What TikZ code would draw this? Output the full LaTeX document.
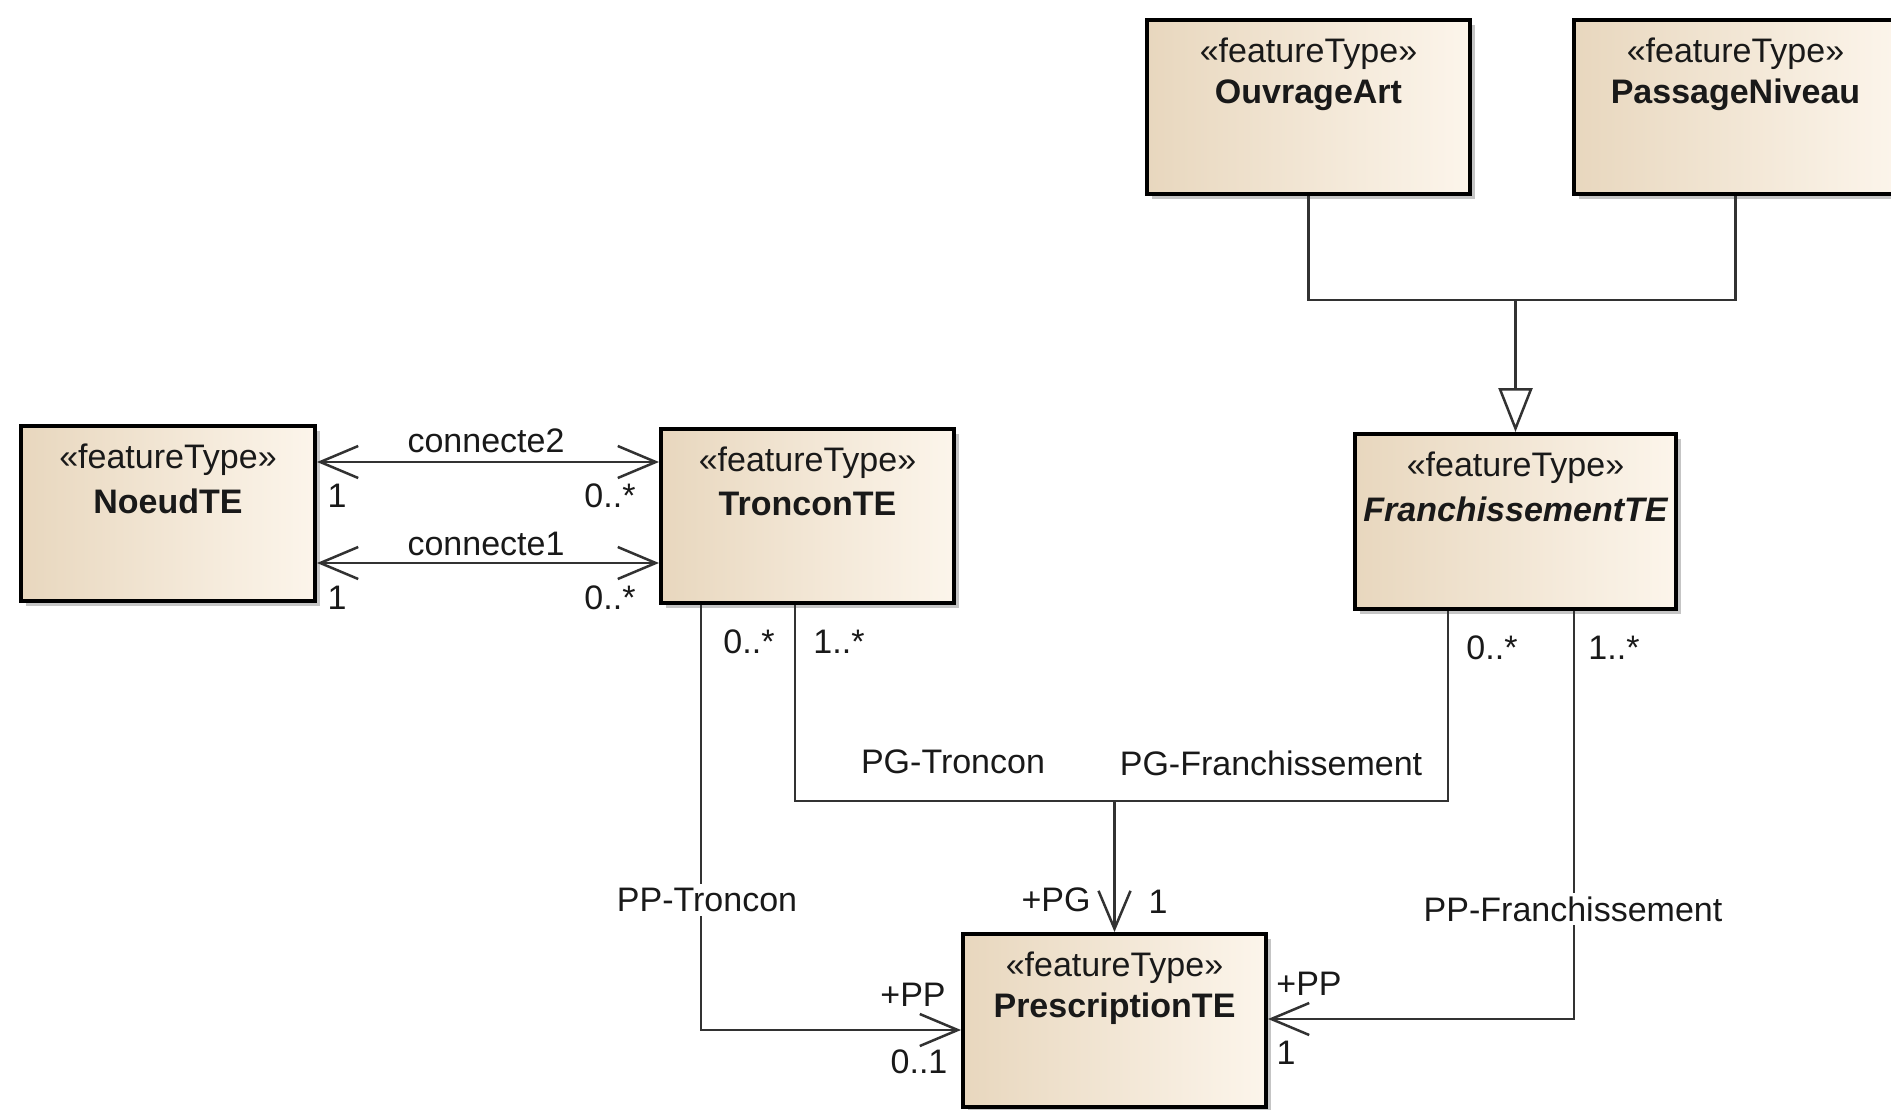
\documentclass[tikz,border=0pt]{standalone}
\usepackage{fontspec}
\setmainfont{Liberation Sans}
\usetikzlibrary{arrows.meta,shadows,calc}
\definecolor{boxdark}{RGB}{232,215,190}
\definecolor{boxlight}{RGB}{252,245,235}
\definecolor{linec}{RGB}{50,50,50}
\begin{document}
\begin{tikzpicture}[x=1pt,y=-1pt,
  umlbox/.style={draw=black, line width=4pt, left color=boxdark, right color=boxlight,
    drop shadow={shadow xshift=5pt, shadow yshift=-5pt, fill=black!45, opacity=0.5},
    anchor=north west, inner sep=0pt},
  stereo/.style={font=\fontsize{34}{40}\selectfont, text=black!90, inner sep=0pt},
  cname/.style={font=\fontsize{34}{40}\selectfont\bfseries, text=black!90, inner sep=0pt},
  lab/.style={font=\fontsize{34}{40}\selectfont, text=black!90, inner sep=0pt},
  wlab/.style={lab, fill=white, inner sep=4pt},
  conn/.style={draw=linec, line width=2.5pt},
  >={Straight Barb[length=38pt,width=32pt]},
  gen/.style={conn, -{Triangle[open,length=44pt,width=34pt,fill=white]}}
]
\useasboundingbox (0,0) rectangle (1891,1109);
\clip (0,0) rectangle (1891,1109);
\fill[white] (0,0) rectangle (1891,1109);

% boxes
\node[umlbox, minimum width=294pt, minimum height=175pt] (noeud) at (19,424) {};
\node[umlbox, minimum width=293pt, minimum height=174pt] (troncon) at (659,427) {};
\node[umlbox, minimum width=321pt, minimum height=175pt] (franch) at (1353,432) {};
\node[umlbox, minimum width=303pt, minimum height=173pt] (prescr) at (961,932) {};
\node[umlbox, minimum width=323pt, minimum height=174pt] (ouvrage) at (1145,18) {};
\node[umlbox, minimum width=323pt, minimum height=174pt] (passage) at (1572,18) {};

% box texts
\node[stereo] (noeud-s) at ([yshift=-36pt]noeud.north) {«featureType»};
\node[cname] (noeud-n) at ([yshift=-77pt]noeud.north) {NoeudTE};
\node[stereo] (troncon-s) at ([yshift=-36pt]troncon.north) {«featureType»};
\node[cname] (troncon-n) at ([yshift=-77pt]troncon.north) {TronconTE};
\node[stereo] (franch-s) at ([yshift=-36pt]franch.north) {«featureType»};
\node[cname, font=\fontsize{34}{40}\selectfont\bfseries\itshape] (franch-n) at ([yshift=-77pt]franch.north) {FranchissementTE};
\node[stereo] (prescr-s) at ([yshift=-36pt]prescr.north) {«featureType»};
\node[cname] (prescr-n) at ([yshift=-77pt]prescr.north) {PrescriptionTE};
\node[stereo] (ouvrage-s) at ([yshift=-36pt]ouvrage.north) {«featureType»};
\node[cname] (ouvrage-n) at ([yshift=-77pt]ouvrage.north) {OuvrageArt};
\node[stereo] (passage-s) at ([yshift=-36pt]passage.north) {«featureType»};
\node[cname] (passage-n) at ([yshift=-77pt]passage.north) {PassageNiveau};

% generalization
\coordinate (gj) at (franch.north |- 0,300);
\draw[conn] (ouvrage.south) |- (gj);
\draw[conn] (passage.south) |- (gj);
\draw[gen] (gj) -- (franch.north);

% connecte2 / connecte1
\coordinate (c2) at (noeud.east |- 0,462);
\coordinate (c1) at (noeud.east |- 0,563);
\draw[conn,<->] (c2) -- (c2 -| troncon.west);
\draw[conn,<->] (c1) -- (c1 -| troncon.west);
\node[lab] (l-c2) at (486,441) {connecte2};
\node[lab] (l-c1) at (486,544) {connecte1};
\node[lab] (l-c2a) at (337,496) {1};
\node[lab] (l-c2b) at (610,496) {0..*};
\node[lab] (l-c1a) at (337,598) {1};
\node[lab] (l-c1b) at (610,598) {0..*};

% PP-Troncon
\coordinate (ppt) at (701,1030);
\draw[conn,->] (troncon.south -| ppt) -- (ppt) -- (ppt -| prescr.west);
\node[wlab] (l-ppt) at (707,900) {PP-Troncon};
\node[lab] (l-ppt-a) at (749,642) {0..*};
\node[lab] (l-ppt-b) at (913,995) {+PP};
\node[lab] (l-ppt-c) at (919,1062) {0..1};

% PG
\coordinate (pgl) at (795,801);
\coordinate (pgr) at (1448,801);
\coordinate (pgj) at (prescr.north |- pgl);
\draw[conn] (troncon.south -| pgl) -- (pgl) -- (pgr) -- (franch.south -| pgr);
\draw[conn,->] (pgj) -- (prescr.north);
\node[lab] (l-pg-a) at (839,642) {1..*};
\node[lab] (l-pgt) at (953,762) {PG-Troncon};
\node[lab] (l-pgf) at (1271,763) {PG-Franchissement};
\node[lab] (l-pg-b) at (1492,648) {0..*};
\node[lab] (l-pg-c) at (1056,900) {+PG};
\node[lab] (l-pg-d) at (1158,902) {1};

% PP-Franchissement
\coordinate (ppf) at (1574,1019);
\draw[conn,->] (franch.south -| ppf) -- (ppf) -- (ppf -| prescr.east);
\node[lab] (l-ppf-a) at (1614,648) {1..*};
\node[wlab] (l-ppf) at (1573,909) {PP-Franchissement};
\node[lab] (l-ppf-b) at (1309,984) {+PP};
\node[lab] (l-ppf-c) at (1286,1053) {1};
\end{tikzpicture}
\end{document}
